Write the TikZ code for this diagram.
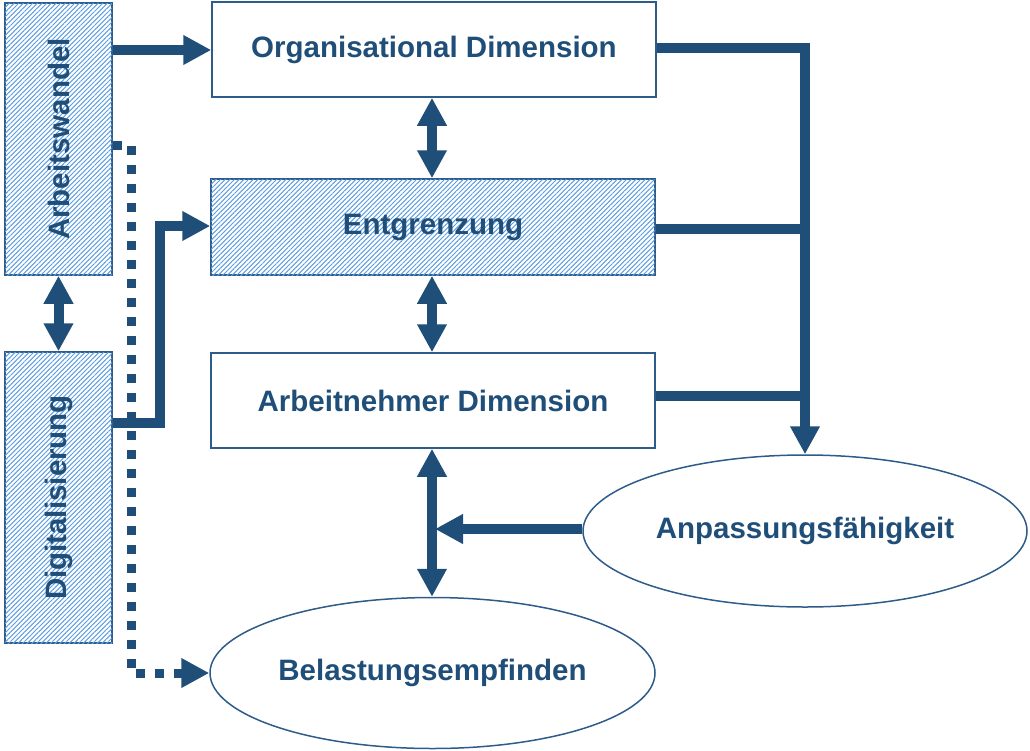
\documentclass[tikz,border=0pt]{standalone}
\usepackage{fontspec}
\setmainfont{Liberation Sans}
\usetikzlibrary{arrows.meta,shapes.geometric,patterns.meta}
\definecolor{dblue}{RGB}{31,78,121}
\definecolor{bord}{RGB}{46,92,138}
\definecolor{hatch}{RGB}{95,158,225}
\newcommand{\lbl}{\fontsize{29.5}{34}\selectfont\bfseries}
\tikzset{
  box/.style={draw=bord, line width=1.5pt, rectangle, inner sep=0pt, fill=white,
    text=dblue, font=\lbl},
  hbox/.style={box, fill=white, postaction={pattern={Lines[angle=45,distance=3.3pt,line width=1pt]}, pattern color=hatch}},
  lbltext/.style={text=dblue, font=\lbl},
  ell/.style={draw=bord, line width=1.5pt, ellipse, inner sep=0pt, text=dblue, font=\lbl},
  conn/.style={draw=dblue, line width=10pt},
  arr/.style={conn, -{Triangle[width=28pt,length=28pt]}},
  darr/.style={conn, {Triangle[width=28pt,length=28pt]}-{Triangle[width=28pt,length=28pt]}},
  dots/.style={draw=dblue, line width=9pt, dash pattern=on 9pt off 10pt, -{Triangle[width=28pt,length=28pt]}}
}
\begin{document}
\begin{tikzpicture}[x=1pt,y=-1pt]
\useasboundingbox (0,0) rectangle (1030,750);
\node[box, minimum width=444pt, minimum height=95pt] (org) at (434,49.5) {Organisational Dimension};
\node[hbox, minimum width=444pt, minimum height=96pt] (ent) at (433,227) {};
\node[lbltext] (entt) at (ent.center) {Entgrenzung};
\node[box, minimum width=444pt, minimum height=95pt] (arb) at (433,400.5) {Arbeitnehmer Dimension};
\node[hbox, minimum width=107pt, minimum height=272pt] (aw) at (58.5,139) {};
\node[lbltext, rotate=90] (awt) at (aw.center) {Arbeitswandel};
\node[hbox, minimum width=107pt, minimum height=291pt] (dg) at (58.5,497.5) {};
\node[lbltext, rotate=90] (dgt) at (dg.center) {Digitalisierung};
\node[ell, minimum width=444pt, minimum height=152pt] (anp) at (805,531) {Anpassungsfähigkeit};
\node[ell, minimum width=445pt, minimum height=151pt] (bel) at (432.5,673) {Belastungsempfinden};

% left connectors
\draw[arr] (aw.east |- 0,50) -- (org.west |- 0,50);
\draw[darr] (aw.south) -- (dg.north);
\coordinate (d1) at (160,423);
\coordinate (d2) at (160,226);
\draw[arr] (dg.east |- d1) -- (d1) -- (d2) -- (ent.west |- d2);
\coordinate (p1) at (131,145);
\coordinate (p2) at (131,673);
\draw[dots] (aw.east |- p1) -- (p1) -- (p2) -- (bel.west);

% center double arrows
\draw[darr] (org.south -| 432,0) -- (ent.north -| 432,0);
\draw[darr] (ent.south -| 432,0) -- (arb.north -| 432,0);
\draw[darr] (arb.south -| 432,0) -- (bel.north -| 432,0);

% right side
\coordinate (r1) at (805,48);
\coordinate (r2) at (805,229);
\coordinate (r3) at (805,396);
\draw[arr] (org.east |- r1) -- (r1) -- (anp.north);
\draw[conn] (ent.east |- r2) -- (r2);
\draw[conn] (arb.east |- r3) -- (r3);
\coordinate (m) at (435,529);
\draw[arr] (anp.west |- m) -- (m);
\end{tikzpicture}
\end{document}
